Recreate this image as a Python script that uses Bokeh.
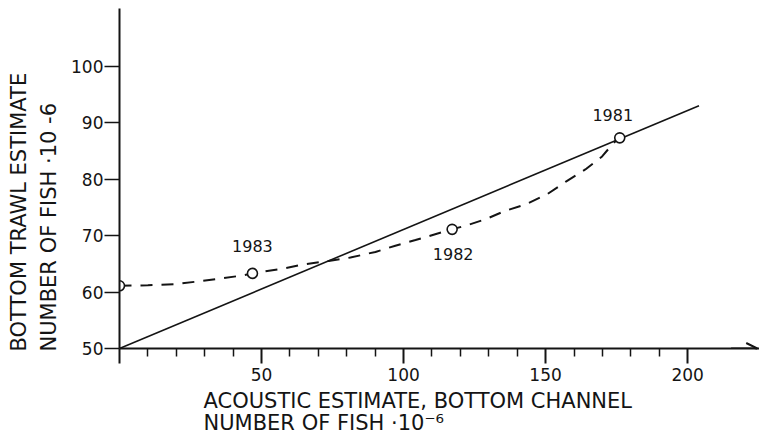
from bokeh.plotting import figure
from bokeh.models import FixedTicker, Arrow, OpenHead, ColumnDataSource, Range1d, Title
from bokeh.core.properties import value
from bokeh.embed import file_html
from bokeh.resources import INLINE

# ---- data ----
# observed estimates (acoustic, bottom trawl)
pts_x = [0, 46.8, 117.1, 176.1]
pts_y = [61.1, 63.3, 71.1, 87.3]
years = ["", "1983", "1982", "1981"]

# dashed curve through the yearly estimates
curve_x = [0, 10, 20, 28, 35.5, 42.9, 46.8, 57, 65, 73.6, 81.3, 90.1, 97.1,
           104.2, 112.3, 117.1, 122.2, 128.9, 135.9, 142.9, 150.5, 157.3,
           164, 169.9, 173.9, 176.1]
curve_y = [61.1, 61.2, 61.4, 61.9, 62.4, 62.9, 63.3, 64.1, 64.9, 65.5, 66.1,
           67.1, 68.2, 69.2, 70.4, 71.1, 71.8, 72.9, 74.4, 75.5, 77.3, 79.6,
           81.7, 84.0, 86.4, 87.3]

# straight reference line
fit_x = [0, 204]
fit_y = [50, 93]

x_ticks = [0, 50, 100, 150, 200]
x_minor = [10, 20, 30, 40, 60, 70, 80, 90, 110, 120, 130, 140, 160, 170, 180, 190]
y_ticks = [50, 60, 70, 80, 90, 100]

INK = "#141414"
FONT = "DejaVu Sans"

p = figure(width=759, height=438,
           x_range=Range1d(0, 225.3), y_range=Range1d(50, 110.2),
           output_backend="svg", toolbar_location=None,
           min_border_left=119, min_border_right=0,
           min_border_top=8, min_border_bottom=88)
p.xgrid.visible = False
p.ygrid.visible = False
p.outline_line_color = None
p.background_fill_color = "white"
p.border_fill_color = "white"

# x axis
xa = p.xaxis[0]
xa.ticker = FixedTicker(ticks=x_ticks, minor_ticks=x_minor)
xa.major_label_overrides = {0: ""}
xa.axis_line_width = 2
xa.axis_line_color = INK
xa.major_tick_line_width = 2
xa.major_tick_line_color = INK
xa.major_tick_out = 15
xa.major_tick_in = 0
xa.minor_tick_line_width = 1.5
xa.minor_tick_line_color = INK
xa.minor_tick_out = 8
xa.minor_tick_in = 0
xa.major_label_standoff = 4
xa.major_label_text_font = FONT
xa.major_label_text_font_size = "17px"
xa.major_label_text_color = INK

# y axis
ya = p.yaxis[0]
ya.ticker = FixedTicker(ticks=y_ticks, minor_ticks=[])
ya.axis_line_width = 2
ya.axis_line_color = INK
ya.major_tick_line_width = 1.5
ya.major_tick_line_color = INK
ya.major_tick_out = 15
ya.major_tick_in = 0
ya.major_label_standoff = 1
ya.major_label_text_font = FONT
ya.major_label_text_font_size = "17px"
ya.major_label_text_color = INK

# arrow head at the end of the x axis
p.add_layout(Arrow(end=OpenHead(size=11, line_width=2, line_color=INK),
                   x_start=p.x_range.end - 10, y_start=50,
                   x_end=p.x_range.end - 0.8, y_end=50,
                   line_width=2, line_color=INK))

# lines
p.line(fit_x, fit_y, line_color=INK, line_width=1.6)
p.line(curve_x, curve_y, line_color=INK, line_width=2, line_dash="12 9")
p.scatter(pts_x, pts_y, size=10, marker="circle", fill_color="white",
          line_color=INK, line_width=1.6)

# year labels
src = ColumnDataSource(dict(x=pts_x[1:], y=pts_y[1:], t=years[1:],
                            dx=[0, 1, -7], dy=[-27, 25, -23]))
p.text(x="x", y="y", text="t", x_offset="dx", y_offset="dy", source=src,
       text_align="center", text_baseline="middle",
       text_font=value(FONT), text_font_size="16px", text_color=INK)

# axis titles (stacked outward from the axes)
def title(text, size, offset, standoff, lh=1.0):
    return Title(text=text, align="left", offset=offset, standoff=standoff,
                 text_font=FONT, text_font_size=size, text_font_style="normal",
                 text_color=INK, text_line_height=lh)

p.add_layout(title("NUMBER OF FISH ·10 -6", "21px", -3, 15), "left")
p.add_layout(title("BOTTOM TRAWL ESTIMATE", "21px", -3, -7), "left")
p.add_layout(title("ACOUSTIC ESTIMATE, BOTTOM CHANNEL\nNUMBER OF FISH ·10⁻⁶",
                   "21px", 84, 6, 0.95), "below")

open("out.html", "w").write(file_html(p, INLINE))
